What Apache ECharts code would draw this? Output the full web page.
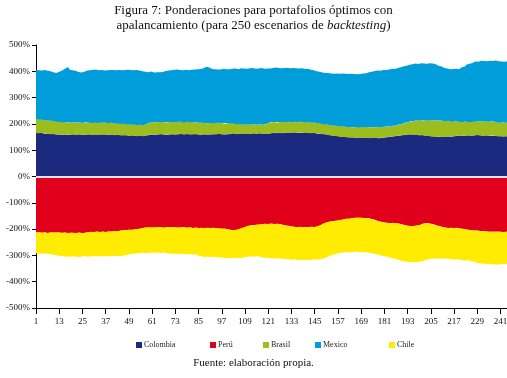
<!DOCTYPE html>
<html><head><meta charset="utf-8">
<script src="https://cdn.jsdelivr.net/npm/echarts@6/dist/echarts.min.js"></script>
<style>html,body{margin:0;padding:0;background:#fff}#c{width:507px;height:378px}</style>
</head><body><div id="c"></div>
<script>
// categories: scenarios 1..250
const categories = Array.from({length: 250}, (_, i) => String(i + 1));
const yTicks = [-500,-400,-300,-200,-100,0,100,200,300,400,500];

const colombia = [
165,166,164,165,163,164,162,163,161,162,
160,161,160,159,161,160,158,159,160,161,
160,159,161,160,158,159,160,161,159,158,
160,159,158,160,161,159,160,158,157,159,
158,157,159,158,156,157,158,156,155,157,
156,155,154,153,155,154,153,156,158,159,
160,159,161,160,162,161,160,159,161,160,
161,162,160,161,163,162,161,160,162,161,
160,161,162,161,160,159,160,161,160,159,
160,161,162,161,163,162,161,160,162,161,
162,163,164,162,161,163,164,163,162,164,
163,162,164,165,163,164,165,163,164,162,
163,164,165,166,164,165,166,164,165,166,
167,165,166,168,167,166,165,167,166,168,
166,165,166,164,165,163,164,162,163,161,
160,158,157,156,155,154,153,152,151,150,
150,149,148,149,148,147,148,147,146,147,
146,147,146,145,146,147,146,145,146,147,
148,149,150,151,152,153,154,155,156,157,
158,159,160,161,160,159,160,158,157,158,
157,156,155,154,153,152,151,152,150,151,
150,151,150,152,151,152,153,154,155,154,
155,156,155,157,156,155,157,156,158,157,
156,155,157,156,155,154,156,155,153,154,
153,152,154,153,152,153,151,152,153,152];

const brasil = [
55,53,53,51,52,50,51,49,51,49,
50,47,47,49,45,47,47,47,45,43,
45,47,43,45,45,45,46,44,45,45,
44,46,45,44,45,46,44,45,45,45,
45,45,42,45,44,44,42,43,43,43,
42,42,42,42,42,42,42,43,45,45,
45,47,46,45,46,46,46,46,46,46,
47,45,46,48,45,46,47,44,46,47,
46,46,43,45,44,44,44,42,42,44,
43,43,40,42,41,42,41,40,41,42,
41,39,37,38,38,37,35,35,35,34,
35,35,34,34,34,34,34,34,34,37,
40,41,42,41,40,42,41,43,42,41,
40,43,40,39,41,40,42,41,40,39,
40,40,40,40,40,40,38,39,37,38,
38,39,39,39,39,39,39,39,39,40,
39,39,40,38,40,40,40,39,41,41,
41,41,40,42,42,39,41,43,43,41,
41,41,41,39,40,40,40,41,42,43,
44,45,46,47,50,52,52,55,55,55,
57,57,60,60,60,60,62,62,62,62,
62,60,60,60,60,57,57,54,54,53,
53,51,54,51,50,52,52,52,52,52,
54,54,54,54,53,53,53,53,53,51,
51,51,51,51,51,52,53,51,51,53];

const mexico = [
185,185,189,187,190,190,189,188,186,185,
184,185,191,195,202,203,211,206,201,200,
197,194,193,190,191,194,197,200,200,203,
201,202,201,202,199,198,202,201,203,203,
202,202,205,202,204,202,205,207,206,205,
206,205,209,208,204,204,203,198,193,195,
192,189,189,193,188,190,193,196,196,196,
196,199,199,198,197,195,196,202,197,196,
200,198,202,202,202,206,208,212,215,211,
208,205,206,207,203,203,207,210,205,204,
205,208,208,211,209,210,213,213,212,212,
214,214,215,211,215,213,214,215,212,212,
209,206,206,205,210,206,204,205,206,207,
206,204,205,206,204,204,204,204,204,202,
204,203,200,200,197,197,196,196,195,195,
195,197,196,198,197,199,201,200,202,200,
202,202,201,204,202,201,201,204,204,204,
206,206,210,211,211,215,216,216,213,217,
217,215,216,218,218,216,217,217,217,217,
217,217,217,217,217,217,218,215,217,218,
216,219,214,217,215,218,214,211,209,205,
203,202,201,198,197,200,197,202,199,205,
207,211,213,218,223,225,226,229,226,229,
230,230,230,228,232,235,230,233,234,233,
233,236,231,234,232,232,230,233,231,228];

const peru = [
-212,-213,-211,-214,-212,-213,-215,-214,-212,-213,
-214,-212,-213,-215,-214,-213,-215,-216,-214,-215,
-214,-215,-213,-214,-216,-215,-213,-212,-211,-210,
-211,-210,-209,-211,-210,-209,-211,-210,-208,-209,
-208,-207,-209,-206,-205,-204,-203,-204,-202,-203,
-202,-201,-203,-200,-198,-196,-195,-194,-195,-193,
-194,-195,-193,-192,-194,-193,-195,-194,-192,-193,
-194,-192,-193,-195,-194,-193,-192,-194,-195,-193,
-194,-196,-195,-194,-196,-195,-197,-196,-195,-197,
-196,-195,-197,-196,-198,-197,-199,-198,-200,-201,
-202,-203,-204,-203,-202,-200,-198,-195,-192,-189,
-187,-185,-184,-186,-183,-184,-182,-181,-180,-182,
-181,-180,-179,-181,-180,-182,-181,-183,-184,-186,
-187,-189,-190,-191,-192,-193,-192,-191,-193,-192,
-193,-192,-191,-193,-192,-190,-188,-185,-181,-178,
-175,-173,-171,-170,-168,-169,-167,-166,-164,-163,
-162,-160,-161,-159,-158,-157,-158,-156,-157,-158,
-159,-158,-160,-161,-163,-165,-168,-170,-172,-174,
-175,-177,-176,-178,-177,-176,-178,-179,-180,-182,
-184,-186,-187,-188,-189,-188,-187,-186,-185,-182,
-180,-178,-177,-179,-180,-182,-184,-186,-188,-190,
-192,-194,-195,-196,-195,-197,-196,-195,-197,-198,
-199,-200,-201,-203,-202,-204,-205,-206,-205,-207,
-208,-207,-209,-208,-210,-209,-211,-210,-209,-211,
-210,-212,-211,-210,-212,-211,-213,-212,-211,-212];

const chile = [
-80,-80,-80,-80,-81,-82,-79,-82,-85,-85,
-85,-88,-89,-86,-89,-92,-89,-90,-91,-88,
-90,-91,-92,-89,-88,-87,-91,-93,-92,-94,
-91,-93,-96,-93,-92,-94,-93,-92,-95,-92,
-94,-93,-92,-97,-97,-96,-96,-94,-94,-92,
-92,-92,-89,-94,-93,-94,-94,-97,-95,-95,
-95,-95,-95,-97,-97,-97,-94,-97,-100,-100,
-100,-103,-100,-100,-102,-101,-103,-103,-101,-102,
-103,-102,-101,-105,-105,-108,-107,-110,-110,-110,
-110,-110,-110,-110,-110,-112,-109,-112,-109,-110,
-108,-108,-105,-107,-110,-111,-111,-113,-114,-116,
-117,-118,-121,-116,-120,-120,-124,-127,-129,-128,
-128,-131,-131,-131,-131,-128,-131,-130,-130,-129,
-127,-127,-127,-124,-124,-125,-125,-125,-125,-125,
-123,-126,-126,-123,-123,-127,-128,-129,-131,-132,
-132,-130,-129,-128,-128,-125,-125,-125,-125,-125,
-125,-126,-127,-128,-128,-128,-129,-130,-131,-129,
-129,-131,-130,-131,-130,-130,-129,-128,-128,-127,
-128,-128,-131,-131,-134,-137,-137,-138,-139,-139,
-138,-138,-138,-138,-136,-136,-139,-139,-138,-140,
-140,-140,-139,-135,-133,-130,-130,-127,-124,-124,
-121,-118,-119,-117,-120,-117,-120,-120,-120,-118,
-119,-117,-118,-115,-118,-118,-119,-121,-124,-124,
-124,-124,-124,-126,-122,-126,-122,-124,-127,-122,
-124,-120,-124,-123,-119,-123,-119,-121,-120,-120];

const seriesNames = ['Colombia','Perú','Brasil','Mexico','Chile'];
const seriesColors = {Colombia:'#1b2a7f', 'Perú':'#e1001b', Brasil:'#9bbd1e', Mexico:'#009ddb', Chile:'#ffec00'};
const seriesData = {Colombia: colombia, 'Perú': peru, Brasil: brasil, Mexico: mexico, Chile: chile};
const stackOf = {Colombia:'pos', Brasil:'pos', Mexico:'pos', 'Perú':'neg', Chile:'neg'};
const drawOrder = ['Colombia','Brasil','Mexico','Perú','Chile'];
const legendLeft = [131, 205, 258, 310, 384];

const FONT = 'Liberation Serif';
const chart = echarts.init(document.getElementById('c'), null, {renderer:'canvas'});

const series = drawOrder.map(name => ({
  name: name,
  type: 'line',
  stack: stackOf[name],
  step: 'middle',
  data: seriesData[name],
  symbol: 'none',
  showSymbol: false,
  color: seriesColors[name],
  itemStyle: {color: seriesColors[name]},
  lineStyle: {width: 0, color: seriesColors[name]},
  areaStyle: {color: seriesColors[name], opacity: 1},
  animation: false,
  silent: true
}));
series.push({
  name: 'zero', type: 'line', data: [], silent: true,
  markLine: {
    silent: true, symbol: ['none','none'], animation: false,
    label: {show: false},
    lineStyle: {color: '#e4e4e4', width: 2.2, type: 'solid'},
    data: [{yAxis: 0}]
  }
});

chart.setOption({
  animation: false,
  backgroundColor: '#ffffff',
  title: {
    text: 'Figura 7: Ponderaciones para portafolios óptimos con\napalancamiento (para 250 escenarios de {i|backtesting})',
    left: 'center', top: -2,
    textStyle: {
      fontFamily: FONT, fontSize: 13, fontWeight: 'normal', color: '#111', lineHeight: 15,
      rich: {i: {fontFamily: FONT, fontSize: 13, fontStyle: 'italic', color: '#111', lineHeight: 15}}
    }
  },
  graphic: [{
    type: 'text', left: 'center', top: 358,
    style: {text: 'Fuente: elaboración propia.', font: '11px "Liberation Serif"', fill: '#111'}
  }],
  legend: seriesNames.map((n, k) => ({
    data: [n], left: legendLeft[k], top: 336,
    icon: 'rect', itemWidth: 6, itemHeight: 6, itemGap: 0,
    selectedMode: false,
    textStyle: {fontFamily: FONT, fontSize: 8, color: '#222', padding: [0,0,0,-3]}
  })),
  grid: {left: 36, right: -11, top: 45, bottom: 70, containLabel: false, outerBoundsMode: 'none'},
  xAxis: {
    type: 'category', data: categories, boundaryGap: false,
    axisLine: {onZero: false, lineStyle: {color: '#000', width: 1}},
    axisTick: {show: true, interval: 11, length: 6, lineStyle: {color: '#000'}},
    axisLabel: {interval: 11, margin: 9, fontFamily: FONT, fontSize: 9, color: '#111'},
    splitLine: {show: false}
  },
  yAxis: {
    type: 'value', min: -500, max: 500, interval: 100,
    axisLine: {show: true, lineStyle: {color: '#000', width: 1}},
    axisTick: {show: true, length: 4, lineStyle: {color: '#000'}},
    axisLabel: {formatter: '{value}%', margin: 6, fontFamily: FONT, fontSize: 9, color: '#111'},
    splitLine: {show: false}
  },
  series: series
});
</script>
</body></html>
